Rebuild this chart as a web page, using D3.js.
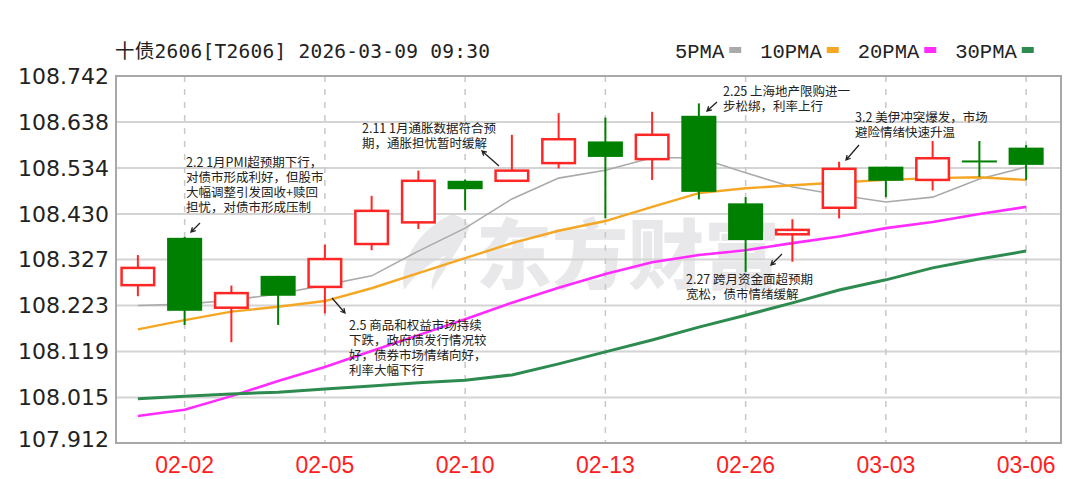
<!DOCTYPE html>
<html lang="zh">
<head>
<meta charset="UTF-8">
<title>十债2606 日K</title>
<script src="https://d3js.org/d3.v7.min.js"></script>
<style>
    html, body { margin: 0; padding: 0; background: #fff; }
    svg { display: block; }
</style>
</head>
<body>
<svg id="chart"></svg>
<script>
    // trading days shown on the chart
    const dates = ["01-30", "02-02", "02-03", "02-04", "02-05", "02-06", "02-09", "02-10", "02-11", "02-12",
                   "02-13", "02-24", "02-25", "02-26", "02-27", "03-02", "03-03", "03-04", "03-05", "03-06"];
    const opens  = [108.269, 108.376, 108.218, 108.290, 108.265, 108.362, 108.411, 108.505, 108.505, 108.545,
                    108.594, 108.554, 108.652, 108.454, 108.384, 108.444, 108.537, 108.507, 108.551, 108.580];
    const highs  = [108.337, 108.378, 108.268, 108.290, 108.361, 108.471, 108.528, 108.508, 108.609, 108.658,
                    108.648, 108.661, 108.680, 108.468, 108.418, 108.548, 108.537, 108.595, 108.595, 108.586];
    const lows   = [108.244, 108.179, 108.140, 108.179, 108.205, 108.348, 108.396, 108.439, 108.505, 108.533,
                    108.420, 108.507, 108.463, 108.299, 108.322, 108.420, 108.468, 108.483, 108.514, 108.507];
    const closes = [108.308, 108.211, 108.251, 108.245, 108.328, 108.437, 108.505, 108.486, 108.528, 108.599,
                    108.559, 108.609, 108.480, 108.371, 108.394, 108.532, 108.505, 108.556, 108.549, 108.541];

    // moving averages
    const ma5  = [108.223, 108.226, 108.235, 108.249, 108.269, 108.290, 108.346, 108.398, 108.464, 108.511,
                  108.529, 108.557, 108.557, 108.523, 108.491, 108.473, 108.457, 108.468, 108.509, 108.536];
    const ma10 = [108.169, 108.190, 108.209, 108.220, 108.233, 108.262, 108.296, 108.330, 108.364, 108.392,
                  108.414, 108.446, 108.477, 108.488, 108.495, 108.501, 108.507, 108.511, 108.513, 108.507];
    const ma20 = [107.973, 107.987, 108.018, 108.052, 108.084, 108.120, 108.156, 108.192, 108.229, 108.263,
                  108.294, 108.321, 108.337, 108.348, 108.364, 108.379, 108.398, 108.412, 108.430, 108.446];
    const ma30 = [108.012, 108.018, 108.023, 108.027, 108.034, 108.041, 108.048, 108.054, 108.066, 108.091,
                  108.118, 108.145, 108.174, 108.201, 108.229, 108.258, 108.281, 108.308, 108.328, 108.346];

    const yTickLabels = ["107.912", "108.015", "108.119", "108.223", "108.327", "108.430", "108.534", "108.638", "108.742"];
    const xTickLabels = ["02-02", "02-05", "02-10", "02-13", "02-26", "03-03", "03-06"];

    const maNames = ["5PMA", "10PMA", "20PMA", "30PMA"];
    const maColors = ["#aaaaaa", "#f5a623", "#ff2bff", "#2e8b4f"];

    const notes = [
        { lines: ["2.2 1月PMI超预期下行，", "对债市形成利好，但股市", "大幅调整引发固收+赎回", "担忧，对债市形成压制"],
          x: 186, y: 167, arrow: [[200, 223], [191, 232]] },
        { lines: ["2.11 1月通胀数据符合预", "期，通胀担忧暂时缓解"],
          x: 362, y: 133, arrow: [[499, 166], [482, 151]] },
        { lines: ["2.25 上海地产限购进一", "步松绑，利率上行"],
          x: 723, y: 96, arrow: [[717, 102], [707, 111]] },
        { lines: ["3.2 美伊冲突爆发，市场", "避险情绪快速升温"],
          x: 855, y: 122, arrow: [[859, 145], [846, 160]] },
        { lines: ["2.5 商品和权益市场持续", "下跌，政府债发行情况较", "好，债券市场情绪向好，", "利率大幅下行"],
          x: 349, y: 330, arrow: [[332, 298], [345, 313]] },
        { lines: ["2.27 跨月资金面超预期", "宽松，债市情绪缓解"],
          x: 686, y: 284, arrow: [[782, 254], [771, 265]] }
    ];

    const width = 1080, height = 479;
    const plot = { left: 116, right: 1061, top: 76, bottom: 443 };

    const svg = d3.select("#chart").attr("width", width).attr("height", height);
    svg.append("rect").attr("width", width).attr("height", height).attr("fill", "#fff");

    const x = d3.scaleBand().domain(dates).range([114.5, 1049.5]).paddingInner(0.25).paddingOuter(0.125);
    const xc = d => x(d) + x.bandwidth() / 2;
    const y = d3.scaleLinear().domain([107.912, 108.742]).range([plot.bottom, plot.top]);

    // watermark
    const wm = svg.append("g").attr("fill", "#e8e8eb");
    wm.append("path")
        .attr("d", "M452,214 C420,228 398,262 404,290 C414,276 430,262 446,255 C436,268 430,280 432,290 C446,266 462,246 470,226 C466,220 460,216 452,214 Z");
    wm.append("text")
        .attr("x", 476).attr("y", 283)
        .attr("font-family", "Noto Sans CJK SC").attr("font-weight", 900).attr("font-size", 76)
        .text("东方财富");

    // grid
    svg.append("g")
        .selectAll("line")
        .data(yTickLabels.slice(1, -1))
        .join("line")
        .attr("x1", plot.left).attr("x2", plot.right)
        .attr("y1", d => y(+d)).attr("y2", d => y(+d))
        .attr("stroke", "#d4d4d4").attr("stroke-width", 2);

    svg.append("g")
        .selectAll("line")
        .data(xTickLabels)
        .join("line")
        .attr("x1", d => xc(d)).attr("x2", d => xc(d))
        .attr("y1", plot.top).attr("y2", plot.bottom)
        .attr("stroke", "#c8c8c8").attr("stroke-width", 1.5).attr("stroke-dasharray", "6,7");

    svg.append("rect")
        .attr("x", plot.left).attr("y", plot.top)
        .attr("width", plot.right - plot.left).attr("height", plot.bottom - plot.top)
        .attr("fill", "none").attr("stroke", "#a8a8a8").attr("stroke-width", 2);

    // y axis labels
    const yAxis = d3.axisLeft(y).tickValues(yTickLabels.map(Number)).tickFormat((d, i) => yTickLabels[i]).tickSize(0).tickPadding(0);
    const gy = svg.append("g").attr("transform", "translate(109,0)").call(yAxis);
    gy.select(".domain").remove();
    gy.selectAll("text")
        .attr("font-family", "DejaVu Sans").attr("font-size", 22).attr("fill", "#222")
        .attr("dy", (d, i) => i === 0 ? "0.15em" : "0.32em");

    // x axis labels
    const xAxis = d3.axisBottom(x).tickValues(xTickLabels).tickSize(0).tickPadding(0);
    const gx = svg.append("g").attr("transform", "translate(0,456)").call(xAxis);
    gx.select(".domain").remove();
    gx.selectAll("text")
        .attr("font-family", "Liberation Sans").attr("font-size", 23).attr("fill", "#ff2020")
        .attr("dy", "0.72em");

    // moving average lines
    const maData = [ma5, ma10, ma20, ma30];
    const maWidths = [1.6, 2.4, 2.6, 3];
    const line = d3.line().x((d, i) => xc(dates[i])).y(d => y(d));
    svg.append("g")
        .selectAll("path")
        .data(maData)
        .join("path")
        .attr("d", d => line(d))
        .attr("fill", "none")
        .attr("stroke", (d, i) => maColors[i])
        .attr("stroke-width", (d, i) => maWidths[i]);

    // candles
    const candles = dates.map((d, i) => ({ date: d, o: opens[i], h: highs[i], l: lows[i], c: closes[i] }));
    const red = "#ff2626", green = "#008000";
    const bw = x.bandwidth();
    const cg = svg.append("g")
        .selectAll("g")
        .data(candles)
        .join("g");
    cg.append("line")
        .attr("x1", d => xc(d.date)).attr("x2", d => xc(d.date))
        .attr("y1", d => y(d.h)).attr("y2", d => y(d.l))
        .attr("stroke", d => d.c >= d.o ? red : green).attr("stroke-width", 2);
    cg.append("rect")
        .attr("x", d => x(d.date) + (d.c >= d.o ? 1.25 : 0))
        .attr("width", d => d.c >= d.o ? bw - 2.5 : bw)
        .attr("y", d => y(Math.max(d.o, d.c)))
        .attr("height", d => Math.max(2, Math.abs(y(d.o) - y(d.c))))
        .attr("fill", d => d.c >= d.o ? "#fff" : green)
        .attr("stroke", d => d.c >= d.o ? red : "none")
        .attr("stroke-width", 2.5);

    // annotations
    const ng = svg.append("g").selectAll("g").data(notes).join("g");
    ng.append("text")
        .attr("font-family", "Noto Sans CJK SC").attr("font-size", 12.5).attr("fill", "#222")
        .selectAll("tspan")
        .data(d => d.lines.map((t, i) => ({ t, x: d.x, y: d.y + i * 15 })))
        .join("tspan")
        .attr("x", d => d.x).attr("y", d => d.y)
        .text(d => d.t);
    ng.append("path")
        .attr("d", d => {
            const [[x0, y0], [x1, y1]] = d.arrow;
            const a = Math.atan2(y1 - y0, x1 - x0), s = 5;
            const p1 = [x1 - s * Math.cos(a - 0.5), y1 - s * Math.sin(a - 0.5)];
            const p2 = [x1 - s * Math.cos(a + 0.5), y1 - s * Math.sin(a + 0.5)];
            return `M${x0},${y0}L${x1},${y1}M${p1}L${x1},${y1}L${p2}`;
        })
        .attr("fill", "none").attr("stroke", "#222").attr("stroke-width", 1.3);

    // title
    svg.append("text")
        .attr("x", 115).attr("y", 58)
        .attr("font-family", "DejaVu Sans Mono, Noto Sans CJK SC").attr("font-size", 19.5).attr("fill", "#222")
        .attr("textLength", 375).attr("lengthAdjust", "spacing")
        .text("十债2606[T2606] 2026-03-09 09:30");

    // legend
    const lg = svg.append("g").attr("font-family", "Liberation Mono").attr("font-size", 20.5).attr("fill", "#222");
    let lx = 675;
    maNames.forEach((name, i) => {
        const t = lg.append("text").attr("x", lx).attr("y", 58).text(name);
        const w = t.node().getComputedTextLength();
        lg.append("rect").attr("x", lx + w + 5).attr("y", 47).attr("width", 12).attr("height", 6)
            .attr("fill", maColors[i]);
        lx += w + 5 + 12 + 19;
    });
</script>
</body>
</html>
